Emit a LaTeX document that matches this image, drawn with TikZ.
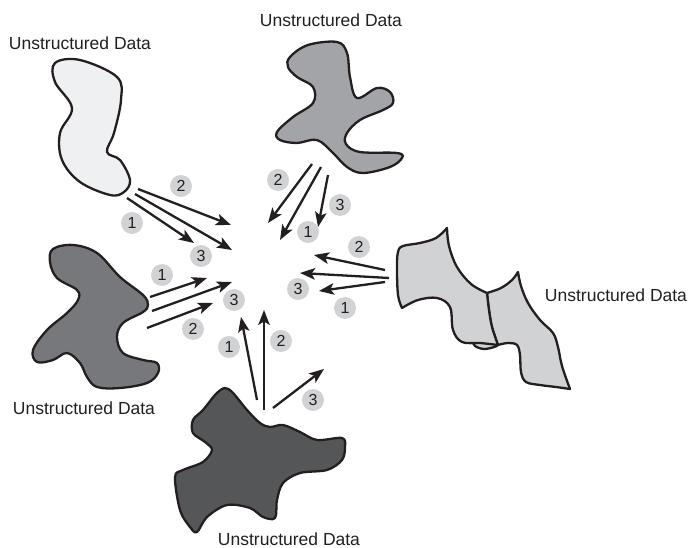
\documentclass[tikz,border=0pt]{standalone}
\usepackage{fontspec}
\setmainfont{Liberation Sans}
\usetikzlibrary{arrows.meta}
\definecolor{ink}{HTML}{231F20}
\definecolor{paleblob}{HTML}{EFF0F1}
\definecolor{midblob}{HTML}{A3A4A7}
\definecolor{greyblob}{HTML}{77787B}
\definecolor{darkblob}{HTML}{555658}
\definecolor{sheet}{HTML}{D1D2D4}
\definecolor{badge}{HTML}{D1D2D4}
\tikzset{
  blob/.style={draw=ink, line width=2.3pt, line join=round},
  flow/.style={draw=ink, line width=2.3pt, -{Stealth[length=15pt,width=11.5pt,inset=3.5pt]}},
  num/.style={circle, fill=badge, minimum size=22pt, inner sep=0pt, text=ink,
    font=\fontsize{16}{16}\selectfont},
  caption/.style={text=ink, font=\fontsize{17.5}{17.5}\selectfont, inner sep=0pt}
}
\begin{document}
\begin{tikzpicture}[x=1pt, y=-1pt]
\useasboundingbox (0,0) rectangle (689,548);

% ---- data sources ----
% upper left
\filldraw[blob, fill=paleblob] plot[smooth cycle, tension=0.6] coordinates {
  (55,63) (80,60) (117,77) (121,100) (114,133) (107,152) (120,160) (130,180)
  (124,192) (110,195) (80,182) (62,160) (60,133) (72,108) (55,82)};
% upper middle
\filldraw[blob, fill=midblob] plot[smooth cycle, tension=0.6] coordinates {
  (290,57) (308,45) (337,42) (347,53) (350,77) (357,98) (377,88) (390,92)
  (393,103) (383,110) (360,120) (347,133) (346,144) (360,152) (397,153)
  (402,158) (390,167) (363,173) (347,167) (333,153) (317,140) (297,143)
  (280,140) (277,132) (293,117) (313,103) (313,87) (297,77) (288,67)};
% left
\filldraw[blob, fill=greyblob] plot[smooth cycle, tension=0.6] coordinates {
  (53,249) (73,245) (97,253) (120,277) (143,295) (148,305) (143,312) (123,323)
  (117,337) (123,353) (143,360) (157,363) (158,373) (147,383) (120,388)
  (97,387) (87,377) (80,363) (67,353) (53,360) (37,362) (33,350) (47,330)
  (67,313) (78,300) (77,290) (57,278) (50,262)};
% bottom
\filldraw[blob, fill=darkblob] plot[smooth cycle, tension=0.55] coordinates {
  (225,388) (233,393) (247,410) (260,423) (270,427) (283,425) (300,432)
  (317,440) (342,438) (345,447) (342,460) (327,470) (300,473) (283,483)
  (277,500) (275,518) (263,517) (250,508) (227,505) (207,517) (197,532)
  (190,527) (180,510) (175,477) (183,470) (203,462) (212,450) (205,442)
  (193,433) (193,420) (203,410) (216,394)};
% right: folded sheet
\filldraw[blob, fill=sheet] plot[smooth cycle, tension=0.6] coordinates {
  (498,345) (485,349) (475,346) (474,341) (486,341)};
\filldraw[blob, fill=sheet] (487,293)
  -- plot[smooth, tension=0.6] coordinates {(487,293) (501,288) (512,280) (518,272)}
  -- plot[smooth, tension=0.6] coordinates {(518,272) (521,286) (528,303) (540,320) (553,333) (558,347) (562,366) (570,389)}
  -- plot[smooth, tension=0.6] coordinates {(570,389) (556,387) (540,385) (526,382) (521,372) (520,355) (517,345) (508,343) (498,345)}
  -- plot[smooth, tension=0.6] coordinates {(498,345) (492,327) (489,310) (487,293)}
  -- cycle;
\filldraw[blob, fill=sheet] (447,228)
  -- plot[smooth, tension=0.6] coordinates {(447,228) (449,246) (457,267) (471,284) (487,293)}
  -- plot[smooth, tension=0.6] coordinates {(487,293) (489,310) (492,327) (498,345)}
  -- plot[smooth, tension=0.6] coordinates {(498,345) (480,343) (462,342) (453,330) (450,307) (437,298) (418,300) (402,308)}
  -- plot[smooth, tension=0.6] coordinates {(402,308) (398,295) (397,268) (398,252) (403,246) (420,243) (436,238) (447,228)}
  -- cycle;

% ---- captions ----
\node[caption] (capTL) at (80,43) {Unstructured Data};
\node[caption] (capTC) at (331,20) {Unstructured Data};
\node[caption] (capL)  at (84,408) {Unstructured Data};
\node[caption] (capB)  at (289,539) {Unstructured Data};
\node[caption] (capR)  at (616,295) {Unstructured Data};

% ---- flow end points ----
\coordinate (a1s) at (127,198); \coordinate (a1e) at (194,243);
\coordinate (a2s) at (138,189); \coordinate (a2e) at (231,225);
\coordinate (a3s) at (135,194); \coordinate (a3e) at (232,250);
\coordinate (b2s) at (312,164); \coordinate (b2e) at (268,223);
\coordinate (b1s) at (321,167); \coordinate (b1e) at (280,240);
\coordinate (b3s) at (328,175); \coordinate (b3e) at (318,227);
\coordinate (c2s) at (385,270); \coordinate (c2e) at (314,255);
\coordinate (c3s) at (389,278); \coordinate (c3e) at (300,273);
\coordinate (c1s) at (385,282); \coordinate (c1e) at (319,291);
\coordinate (d1s) at (150,297); \coordinate (d1e) at (207,278);
\coordinate (d3s) at (152,311); \coordinate (d3e) at (232,282);
\coordinate (d2s) at (147,328); \coordinate (d2e) at (213,303);
\coordinate (e1s) at (257,400); \coordinate (e1e) at (241,317);
\coordinate (e2s) at (264,410); \coordinate (e2e) at (264,310);
\coordinate (e3s) at (273,408); \coordinate (e3e) at (324,369);

\foreach \f in {a1,a2,a3,b1,b2,b3,c1,c2,c3,d1,d2,d3,e1,e2,e3}
  \draw[flow] (\f s) -- (\f e);

% ---- step badges ----
\node[num] (na1) at (132,223) {1};
\node[num] (na2) at (181,186) {2};
\node[num] (na3) at (201,256) {3};
\node[num] (nb2) at (278,180) {2};
\node[num] (nb1) at (308,232) {1};
\node[num] (nb3) at (340,205) {3};
\node[num] (nc2) at (359,247) {2};
\node[num] (nc3) at (298,289) {3};
\node[num] (nc1) at (345,308) {1};
\node[num] (nd1) at (162,275) {1};
\node[num] (nd3) at (234,300) {3};
\node[num] (nd2) at (193,329) {2};
\node[num] (ne1) at (229,347) {1};
\node[num] (ne2) at (281,341) {2};
\node[num] (ne3) at (313,400) {3};
\end{tikzpicture}
\end{document}
